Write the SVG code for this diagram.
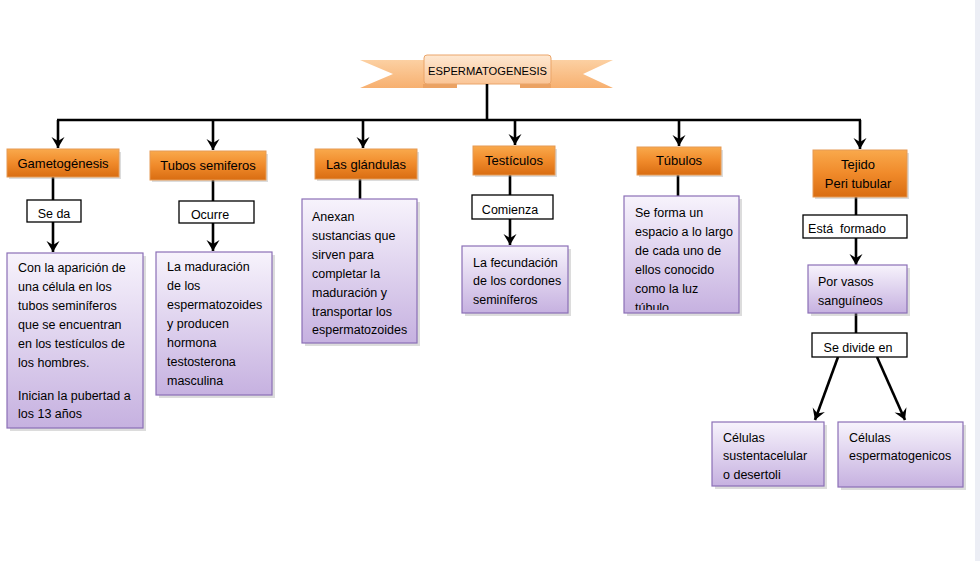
<svg xmlns="http://www.w3.org/2000/svg" width="980" height="561" viewBox="0 0 980 561">
<defs>
<linearGradient id="og" x1="0" y1="0" x2="0" y2="1">
<stop offset="0" stop-color="#f9a94c"/><stop offset="0.5" stop-color="#f08a2a"/><stop offset="1" stop-color="#d96d12"/>
</linearGradient>
<linearGradient id="pg" x1="0" y1="0" x2="0" y2="1">
<stop offset="0" stop-color="#f7f3fc"/><stop offset="1" stop-color="#c6b1e0"/>
</linearGradient>
<linearGradient id="rg" x1="0" y1="0" x2="0" y2="1">
<stop offset="0" stop-color="#fcd0a2"/><stop offset="1" stop-color="#f7b070"/>
</linearGradient>
<linearGradient id="bg" x1="0" y1="0" x2="0" y2="1">
<stop offset="0" stop-color="#fee8d2"/><stop offset="1" stop-color="#fac596"/>
</linearGradient>
<marker id="ah" markerUnits="userSpaceOnUse" markerWidth="14" markerHeight="14" viewBox="-12 -7 14 14" refX="0" refY="0" orient="auto">
<path d="M0,0 L-11,-6.5 L-7,0 L-11,6.5 z" fill="#000"/>
</marker>
<clipPath id="tclip"><rect x="624" y="196" width="115" height="114"/></clipPath>
</defs>
<style>
.orange{fill:url(#og);stroke:#e59a55;stroke-width:1}
.purple{fill:url(#pg);stroke:#8b6fb6;stroke-width:1.2}
.label{fill:#fff;stroke:#000;stroke-width:1.3}
.shadow{fill:#9a9a9a;opacity:0.35}
text{font-family:"Liberation Sans",Arial,sans-serif;font-size:12.5px;fill:#000}
.c{text-anchor:middle}
.o{font-size:13px}
.conn line,.conn polyline{stroke:#000;stroke-width:2.6;fill:none}
</style>
<rect x="0" y="0" width="980" height="561" fill="#fff"/>
<rect x="975" y="0" width="5" height="561" fill="#eceef5"/>

<g id="espermatogenesis">
<polygon points="360,60 432,60 432,88 360,88 393,74" fill="url(#rg)"/>
<polygon points="545,60 613,60 583,74 613,88 545,88" fill="url(#rg)"/>
<rect x="423" y="84" width="34" height="4" fill="#eba263"/>
<rect x="520" y="84" width="31" height="4" fill="#eba263"/>
<rect x="424" y="55" width="127" height="29" rx="3" fill="url(#bg)" stroke="#eaa56a" stroke-width="1"/>
<text x="487.5" y="74.5" class="c" style="font-size:11.2px">ESPERMATOGENESIS</text>
</g>

<g id="connectors" class="conn">
<polyline points="487,84 487,120"/>
<line x1="57" y1="120" x2="861" y2="120"/>
<line x1="58" y1="120" x2="58" y2="148" marker-end="url(#ah)"/>
<line x1="213" y1="120" x2="213" y2="150" marker-end="url(#ah)"/>
<line x1="363" y1="120" x2="363" y2="148" marker-end="url(#ah)"/>
<line x1="515" y1="120" x2="515" y2="145" marker-end="url(#ah)"/>
<line x1="679" y1="120" x2="679" y2="146" marker-end="url(#ah)"/>
<line x1="860" y1="120" x2="860" y2="149" marker-end="url(#ah)"/>
<line x1="53" y1="177" x2="53" y2="200"/>
<line x1="53" y1="222" x2="53" y2="252" marker-end="url(#ah)"/>
<line x1="213" y1="180" x2="213" y2="201"/>
<line x1="213" y1="223" x2="213" y2="251" marker-end="url(#ah)"/>
<line x1="360" y1="179" x2="360" y2="199"/>
<line x1="510" y1="175" x2="510" y2="195"/>
<line x1="510" y1="219" x2="510" y2="245" marker-end="url(#ah)"/>
<line x1="678" y1="175" x2="678" y2="196"/>
<line x1="856" y1="197" x2="856" y2="215"/>
<line x1="856" y1="238" x2="856" y2="265" marker-end="url(#ah)"/>
<line x1="856" y1="313" x2="856" y2="333"/>
<line x1="838" y1="357" x2="815" y2="420" marker-end="url(#ah)"/>
<line x1="877" y1="357" x2="905" y2="420" marker-end="url(#ah)"/>
</g>

<g id="gametogenesis">
<rect x="9" y="152" width="112" height="27" class="shadow"/>
<rect x="7" y="149" width="112" height="28" class="orange"/>
<text x="63" y="167.5" class="c o">Gametogénesis</text>
</g>
<g id="tubos-semiferos">
<rect x="152" y="154" width="116" height="28" class="shadow"/>
<rect x="150" y="151" width="116" height="29" class="orange"/>
<text x="208" y="169.5" class="c o">Tubos semiferos</text>
</g>
<g id="las-glandulas">
<rect x="317" y="152" width="102" height="29" class="shadow"/>
<rect x="315" y="149" width="102" height="30" class="orange"/>
<text x="366" y="168.5" class="c o">Las glándulas</text>
</g>
<g id="testiculos">
<rect x="475" y="149" width="82" height="28" class="shadow"/>
<rect x="473" y="146" width="82" height="29" class="orange"/>
<text x="514" y="164.5" class="c o">Testículos</text>
</g>
<g id="tubulos">
<rect x="639" y="150" width="84" height="27" class="shadow"/>
<rect x="637" y="147" width="84" height="28" class="orange"/>
<text x="679" y="164.5" class="c o">Túbulos</text>
</g>
<g id="tejido-peritubular">
<rect x="815" y="153" width="94" height="46" class="shadow"/>
<rect x="813" y="150" width="94" height="47" class="orange"/>
<text x="858" y="168.5" class="c o">Tejido</text>
<text x="858" y="187.5" class="c o">Peri tubular</text>
</g>

<g id="se-da">
<rect x="27" y="200" width="54" height="22" class="label"/>
<text x="54" y="218" class="c">Se da</text>
</g>
<g id="ocurre">
<rect x="179" y="201" width="75" height="22" class="label"/>
<text x="210" y="219" class="c">Ocurre</text>
</g>
<g id="comienza">
<rect x="472" y="195" width="81" height="24" class="label"/>
<text x="510" y="214" class="c">Comienza</text>
</g>
<g id="esta-formado">
<rect x="803" y="215" width="104" height="23" class="label"/>
<text x="847" y="233" class="c" xml:space="preserve">Está  formado</text>
</g>
<g id="se-divide-en">
<rect x="812" y="333" width="95" height="24" class="label"/>
<text x="858" y="351.5" class="c">Se divide en</text>
</g>

<g id="box-gametogenesis">
<rect x="10" y="256" width="136" height="175" class="shadow"/>
<rect x="7" y="253" width="136" height="175" class="purple"/>
<text x="18" y="272">Con la aparición de</text>
<text x="18" y="291">una célula en los</text>
<text x="18" y="310">tubos seminíferos</text>
<text x="18" y="329">que se encuentran</text>
<text x="18" y="348">en los testículos de</text>
<text x="18" y="367">los hombres.</text>
<text x="18" y="400">Inician la pubertad a</text>
<text x="18" y="418">los 13 años</text>
</g>
<g id="box-tubos">
<rect x="159" y="255" width="116" height="143" class="shadow"/>
<rect x="156" y="252" width="116" height="143" class="purple"/>
<text x="167" y="271">La maduración</text>
<text x="167" y="290">de los</text>
<text x="167" y="309">espermatozoides</text>
<text x="167" y="328">y producen</text>
<text x="167" y="347">hormona</text>
<text x="167" y="366">testosterona</text>
<text x="167" y="385">masculina</text>
</g>
<g id="box-glandulas">
<rect x="305" y="202" width="115" height="144" class="shadow"/>
<rect x="302" y="199" width="115" height="144" class="purple"/>
<text x="312" y="221">Anexan</text>
<text x="312" y="240">sustancias que</text>
<text x="312" y="259">sirven para</text>
<text x="312" y="278">completar la</text>
<text x="312" y="297">maduración y</text>
<text x="312" y="316">transportar los</text>
<text x="312" y="334">espermatozoides</text>
</g>
<g id="box-testiculos">
<rect x="465" y="249" width="106" height="67" class="shadow"/>
<rect x="462" y="246" width="106" height="67" class="purple"/>
<text x="473" y="267">La fecundación</text>
<text x="473" y="285">de los cordones</text>
<text x="473" y="304">seminíferos</text>
</g>
<g id="box-tubulos">
<rect x="627" y="199" width="115" height="117" class="shadow"/>
<rect x="624" y="196" width="115" height="117" class="purple"/>
<g clip-path="url(#tclip)">
<text x="635" y="217">Se forma un</text>
<text x="635" y="236">espacio a lo largo</text>
<text x="635" y="255">de cada uno de</text>
<text x="635" y="274">ellos conocido</text>
<text x="635" y="293">como la luz</text>
<text x="635" y="312">túbulo</text>
</g>
</g>
<g id="por-vasos">
<rect x="811" y="268" width="99" height="48" class="shadow"/>
<rect x="808" y="265" width="99" height="48" class="purple"/>
<text x="818" y="286">Por vasos</text>
<text x="818" y="305">sanguíneos</text>
</g>
<g id="celulas-sustentacelular">
<rect x="715" y="425" width="112" height="64" class="shadow"/>
<rect x="712" y="422" width="112" height="64" class="purple"/>
<text x="723" y="442">Células</text>
<text x="723" y="460">sustentacelular</text>
<text x="723" y="479">o desertoli</text>
</g>
<g id="celulas-espermatogenicos">
<rect x="841" y="425" width="125" height="65" class="shadow"/>
<rect x="838" y="422" width="125" height="65" class="purple"/>
<text x="849" y="442">Células</text>
<text x="849" y="460">espermatogenicos</text>
</g>
</svg>
